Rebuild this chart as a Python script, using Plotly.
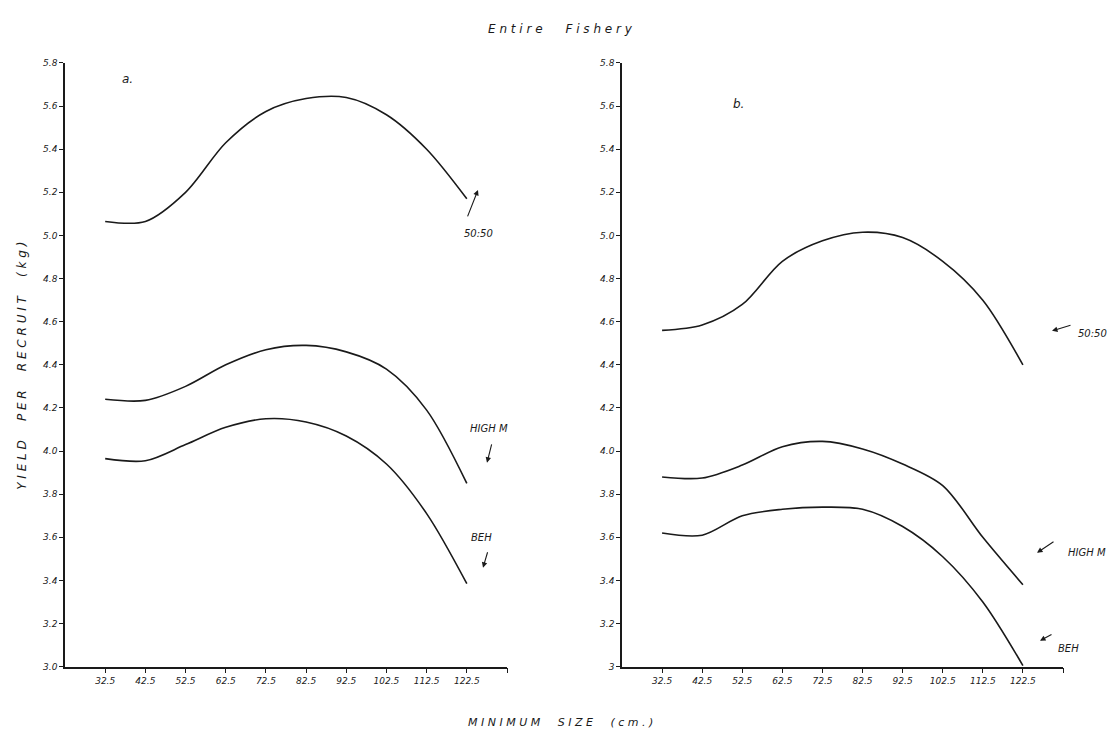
import plotly.graph_objects as go

# ---- data ----
min_size = [32.5, 42.5, 52.5, 62.5, 72.5, 82.5, 92.5, 102.5, 112.5, 122.5]

a_5050 = [5.065, 5.065, 5.20, 5.43, 5.575, 5.635, 5.64, 5.56, 5.40, 5.17]
a_highm = [4.24, 4.235, 4.30, 4.40, 4.47, 4.49, 4.46, 4.38, 4.19, 3.85]
a_beh = [3.965, 3.955, 4.03, 4.11, 4.15, 4.135, 4.07, 3.94, 3.71, 3.385]

b_5050 = [4.56, 4.585, 4.68, 4.88, 4.975, 5.015, 4.99, 4.88, 4.70, 4.40]
b_highm = [3.88, 3.875, 3.935, 4.02, 4.045, 4.01, 3.94, 3.84, 3.60, 3.38]
b_beh = [3.62, 3.61, 3.70, 3.73, 3.74, 3.73, 3.65, 3.51, 3.30, 3.005]

x_tickvals = [32.5, 42.5, 52.5, 62.5, 72.5, 82.5, 92.5, 102.5, 112.5, 122.5, 132.5]
x_ticktext = ["32.5", "42.5", "52.5", "62.5", "72.5", "82.5", "92.5", "102.5", "112.5", "122.5", ""]
y_tickvals = [3.0, 3.2, 3.4, 3.6, 3.8, 4.0, 4.2, 4.4, 4.6, 4.8, 5.0, 5.2, 5.4, 5.6, 5.8]
ya_ticktext = ["3.0", "3.2", "3.4", "3.6", "3.8", "4.0", "4.2", "4.4", "4.6", "4.8", "5.0", "5.2", "5.4", "5.6", "5.8"]
yb_ticktext = ["3", "3.2", "3.4", "3.6", "3.8", "4.0", "4.2", "4.4", "4.6", "4.8", "5.0", "5.2", "5.4", "5.6", "5.8"]

W, H = 1119, 742
INK = "#1a1a1a"
FONT = "DejaVu Sans"

def px(xp):
    return xp / W

def py(yp):
    # small empirical correction for the vertical placement seen in the render
    return 1 - ((yp - 4) / 0.987) / H

fig = go.Figure()
line = dict(color=INK, width=1.6, shape="spline", smoothing=0.9)
for ys in (a_5050, a_highm, a_beh):
    fig.add_trace(go.Scatter(x=min_size, y=ys, mode="lines", line=line,
                             xaxis="x", yaxis="y", showlegend=False, hoverinfo="x+y"))
for ys in (b_5050, b_highm, b_beh):
    fig.add_trace(go.Scatter(x=min_size, y=ys, mode="lines", line=line,
                             xaxis="x2", yaxis="y2", showlegend=False, hoverinfo="x+y"))

tickfont = dict(family=FONT, size=9, color=INK, style="italic")
xcommon = dict(range=[22.5, 132.5], tickvals=x_tickvals, ticktext=x_ticktext,
               showgrid=False, zeroline=False, showline=True, linecolor=INK, linewidth=1.5,
               ticks="outside", ticklen=5, tickcolor=INK, tickwidth=1.2, tickfont=tickfont,
               fixedrange=True)
ycommon = dict(range=[3.0, 5.8], tickvals=y_tickvals,
               showgrid=False, zeroline=False, showline=True, linecolor=INK, linewidth=1.5,
               ticks="outside", ticklen=4, tickcolor=INK, tickwidth=1.2, tickfont=tickfont,
               fixedrange=True)

ydom = [py(666), py(62)]
fig.update_layout(
    width=W, height=H,
    margin=dict(l=0, r=0, t=0, b=0),
    paper_bgcolor="white", plot_bgcolor="white",
    xaxis=dict(domain=[px(65), px(507)], anchor="y", **xcommon),
    yaxis=dict(domain=ydom, anchor="x", ticktext=ya_ticktext, **ycommon),
    xaxis2=dict(domain=[px(622), px(1063)], anchor="y2", **xcommon),
    yaxis2=dict(domain=ydom, anchor="x2", ticktext=yb_ticktext, **ycommon),
)

def txt(x, y, s, size=11, angle=0):
    fig.add_annotation(x=px(x), y=py(y), xref="paper", yref="paper", text=s,
                       xanchor="center", yanchor="middle",
                       showarrow=False, textangle=angle,
                       font=dict(family=FONT, size=size, color=INK, style="italic"))

def arrow(tip, tail):
    fig.add_annotation(x=px(tip[0]), y=py(tip[1]), xref="paper", yref="paper",
                       ax=tail[0] - tip[0], ay=tail[1] - tip[1], axref="pixel", ayref="pixel",
                       text="", showarrow=True, arrowhead=2, arrowsize=1, arrowwidth=1.1,
                       arrowcolor=INK)

txt(560, 28, "E n t i r e &nbsp;&nbsp;&nbsp;&nbsp; F i s h e r y", size=12)
txt(22, 365, "Y I E L D &nbsp;&nbsp;&nbsp; P E R &nbsp;&nbsp;&nbsp; R E C R U I T &nbsp;&nbsp;&nbsp; ( k g )", size=12, angle=-90)
txt(560, 722, "M I N I M U M &nbsp;&nbsp;&nbsp; S I Z E &nbsp;&nbsp;&nbsp; ( c m . )", size=11)
txt(127, 78, "a.", size=12)
txt(738, 103, "b.", size=12)

# panel a labels
txt(478, 233, "50:50", size=10)
arrow((478, 189), (467, 217))
txt(489, 428, "HIGH M", size=10)
arrow((487, 462), (492, 442))
txt(482, 537, "BEH", size=10)
arrow((483, 567), (488, 550))

# panel b labels
txt(1092, 333, "50:50", size=10)
arrow((1052, 330), (1072, 324))
txt(1087, 552, "HIGH M", size=10)
arrow((1037, 552), (1055, 540))
txt(1068, 648, "BEH", size=10)
arrow((1040, 640), (1053, 633))

fig.write_html("out.html", config={"displayModeBar": False},
               post_script="document.body.style.margin='0';")
